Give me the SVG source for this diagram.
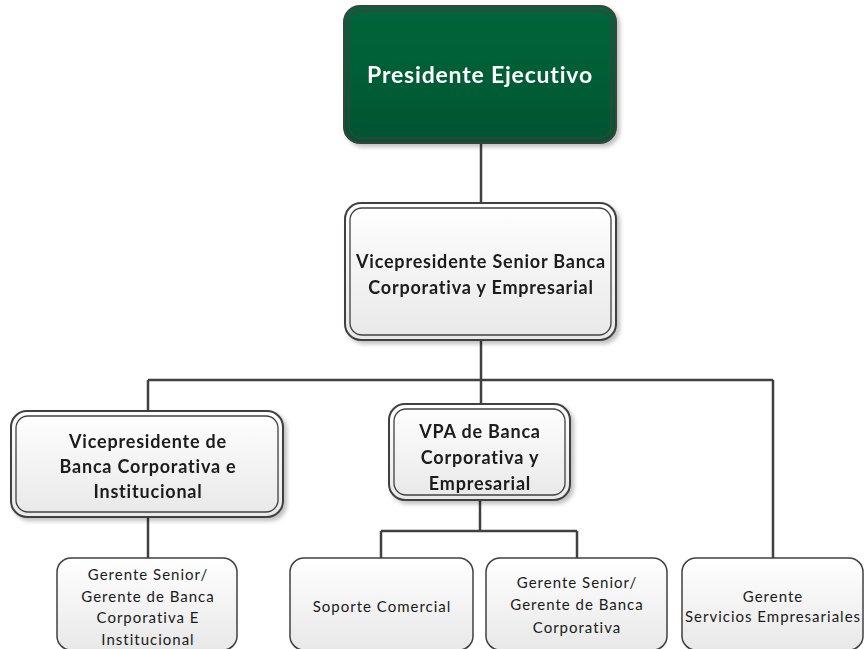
<svg xmlns="http://www.w3.org/2000/svg" width="866" height="649" viewBox="0 0 866 649">
<defs>
<linearGradient id="gGreen" x1="0" y1="0" x2="0" y2="1"><stop offset="0" stop-color="#00663b"/><stop offset="1" stop-color="#005530"/></linearGradient>
<linearGradient id="gLight" x1="0" y1="0" x2="0" y2="1"><stop offset="0" stop-color="#ffffff"/><stop offset="1" stop-color="#e8e8e8"/></linearGradient>
<filter id="sh" x="-10%" y="-10%" width="125%" height="130%"><feDropShadow dx="3" dy="3" stdDeviation="2" flood-color="#000" flood-opacity="0.25"/></filter>
</defs>
<style>
.outer{stroke:#404040;stroke-width:2}
.inner{fill:none;stroke:#404040;stroke-width:1.3}
.conn{fill:none;stroke:#404040;stroke-width:2.5}
.big{font-family:Lato,"Liberation Sans",sans-serif;font-weight:bold;font-size:18px;letter-spacing:0.8px;fill:#1a1a1a;text-anchor:middle}
.top{font-family:Lato,"Liberation Sans",sans-serif;font-weight:bold;font-size:23px;letter-spacing:0.8px;fill:#ffffff;text-anchor:middle}
.small{font-family:Lato,"Liberation Sans",sans-serif;font-size:15px;letter-spacing:1px;fill:#1a1a1a;text-anchor:middle}
.leaf{fill:url(#gLight);stroke:#404040;stroke-width:1.5}
</style>
<g id="connectors">
<path class="conn" d="M481 143V203"/>
<path class="conn" d="M481 340V380M148 380H773M148 380V411M481 380V404M773 380V558"/>
<path class="conn" d="M148 517V558"/>
<path class="conn" d="M480 500V531M381 531H577M381 531V558M577 531V558"/>
</g>
<g id="n-presidente" filter="url(#sh)">
<rect class="outer" x="344" y="6" width="272" height="137" rx="16" fill="url(#gGreen)"/>
<rect class="inner" x="349" y="11" width="262" height="127" rx="12"/>
<text class="top" x="480" y="83">Presidente Ejecutivo</text>
</g>
<g id="n-vp-senior" filter="url(#sh)">
<rect class="outer" x="345" y="203" width="271" height="137" rx="16" fill="url(#gLight)"/>
<rect class="inner" x="350" y="208" width="261" height="127" rx="12"/>
<text class="big" x="481" y="268">Vicepresidente Senior Banca</text>
<text class="big" x="481" y="294">Corporativa y Empresarial</text>
</g>
<g id="n-vp-corp" filter="url(#sh)">
<rect class="outer" x="11" y="411" width="272" height="106" rx="16" fill="url(#gLight)"/>
<rect class="inner" x="16" y="416" width="262" height="96" rx="12"/>
<text class="big" x="148" y="448">Vicepresidente de</text>
<text class="big" x="148" y="473">Banca Corporativa e</text>
<text class="big" x="148" y="498">Institucional</text>
</g>
<g id="n-vpa" filter="url(#sh)">
<rect class="outer" x="389" y="404" width="181" height="96" rx="16" fill="url(#gLight)"/>
<rect class="inner" x="394" y="409" width="171" height="86" rx="12"/>
<text class="big" x="480" y="438">VPA de Banca</text>
<text class="big" x="480" y="464">Corporativa y</text>
<text class="big" x="480" y="490">Empresarial</text>
</g>
<g id="n-gerente-senior-inst">
<rect class="leaf" x="57" y="558" width="180" height="92" rx="14"/>
<text class="small" x="148" y="580">Gerente Senior/</text>
<text class="small" x="148" y="602">Gerente de Banca</text>
<text class="small" x="148" y="623">Corporativa E</text>
<text class="small" x="148" y="645">Institucional</text>
</g>
<g id="n-soporte">
<rect class="leaf" x="290" y="558" width="183" height="92" rx="14"/>
<text class="small" x="382" y="612">Soporte Comercial</text>
</g>
<g id="n-gerente-senior-corp">
<rect class="leaf" x="486" y="558" width="181" height="92" rx="14"/>
<text class="small" x="577" y="588">Gerente Senior/</text>
<text class="small" x="577" y="610">Gerente de Banca</text>
<text class="small" x="577" y="633">Corporativa</text>
</g>
<g id="n-gerente-servicios">
<rect class="leaf" x="682" y="558" width="181" height="92" rx="14"/>
<text class="small" x="773" y="602">Gerente</text>
<text class="small" x="773" y="622">Servicios Empresariales</text>
</g>
</svg>
